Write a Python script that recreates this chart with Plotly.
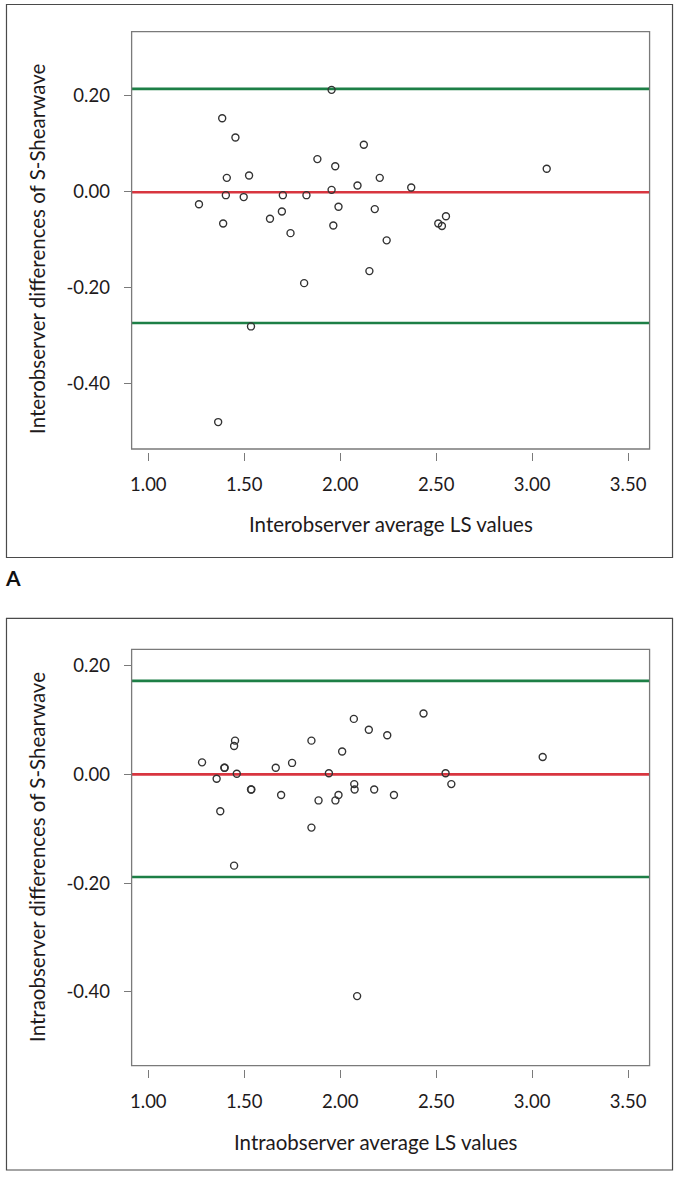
import plotly.graph_objects as go

W, H = 678, 1177

# ---------------- data ----------------
inter_avg = [1.264, 1.385, 1.454, 1.409, 1.404, 1.390, 1.497, 1.525, 1.634, 1.696, 1.701,
             1.741, 1.824, 1.812, 1.881, 1.955, 1.955, 1.964, 1.974, 1.991, 2.090, 2.123,
             2.152, 2.180, 2.206, 2.242, 2.370, 2.511, 2.530, 2.551, 3.076, 1.535, 1.364]
inter_diff = [-0.027, 0.152, 0.112, 0.028, -0.008, -0.067, -0.012, 0.033, -0.057, -0.042, -0.008,
              -0.087, -0.008, -0.191, 0.067, 0.211, 0.003, -0.071, 0.052, -0.032, 0.012, 0.097,
              -0.166, -0.037, 0.028, -0.102, 0.008, -0.067, -0.072, -0.052, 0.047, -0.281, -0.480]
inter_lines = {"mean": -0.002, "upper": 0.213, "lower": -0.274}

intra_avg = [1.280, 1.356, 1.375, 1.396, 1.398, 1.447, 1.452, 1.461, 1.447, 1.535, 1.537,
             1.664, 1.692, 1.749, 1.850, 1.850, 1.887, 1.941, 1.975, 1.991, 2.010, 2.071,
             2.073, 2.075, 2.149, 2.177, 2.245, 2.280, 2.434, 2.549, 2.579, 3.055, 2.088]
intra_diff = [0.022, -0.008, -0.068, 0.012, 0.012, 0.052, 0.062, 0.001, -0.168, -0.028, -0.028,
              0.012, -0.038, 0.021, 0.062, -0.098, -0.048, 0.002, -0.048, -0.038, 0.042, 0.102,
              -0.018, -0.028, 0.082, -0.028, 0.072, -0.038, 0.112, 0.002, -0.018, 0.032, -0.408]
intra_lines = {"mean": 0.000, "upper": 0.172, "lower": -0.189}

x_ticks = [1.0, 1.5, 2.0, 2.5, 3.0, 3.5]
x_ticktext = ["1.00", "1.50", "2.00", "2.50", "3.00", "3.50"]
y_ticks = [0.2, 0.0, -0.2, -0.4]
y_ticktext = ["0.20", "0.00", "-0.20", "-0.40"]

x_title_A = "Interobserver average LS values"
y_title_A = "Interobserver differences of S-Shearwave"
x_title_B = "Intraobserver average LS values"
y_title_B = "Intraobserver differences of S-Shearwave"

# ---------------- layout helpers ----------------
def px(x):
    return x / W

def py(y):
    return 1 - y / H

FONT = "Lato"
TXT = "#1e1a1b"
AXC = "#7a7a7a"
GREEN = "#1d7f46"
RED = "#d8353f"

fig = go.Figure()

panels = [
    dict(xa="x", ya="y", xs=inter_avg, ys=inter_diff, lines=inter_lines,
         top=31.7, bottom=449.0, yr=[-0.536, 0.332],
         xt=x_title_A, yt=y_title_A, xt_x=390, xt_y=524, yt_y=249,
         box=(4.5, 4.5, 672.5, 557.5)),
    dict(xa="x2", ya="y2", xs=intra_avg, ys=intra_diff, lines=intra_lines,
         top=649.3, bottom=1065.7, yr=[-0.536, 0.230],
         xt=x_title_B, yt=y_title_B, xt_x=375, xt_y=1142, yt_y=857,
         box=(4.5, 618.3, 672.5, 1170.0)),
]

LEFT, RIGHT = 130.0, 649.5
shapes = []
annotations = []

for i, p in enumerate(panels):
    fig.add_trace(go.Scatter(
        x=p["xs"], y=p["ys"], mode="markers", xaxis=p["xa"], yaxis=p["ya"],
        marker=dict(symbol="circle-open", size=7, color="#333333", line=dict(width=1.4)),
        showlegend=False, hoverinfo="skip"))

    suffix = "" if i == 0 else "2"
    xdom = [px(LEFT), px(RIGHT)]
    ydom = [py(p["bottom"]), py(p["top"])]
    fig.update_layout(**{
        "xaxis" + suffix: dict(
            domain=xdom, range=[0.913, 3.612], anchor="free",
            position=py(p["bottom"] + 3),
            tickvals=x_ticks, ticktext=x_ticktext, ticks="outside", ticklen=8,
            tickcolor=AXC, tickwidth=1.2, showline=False, showgrid=False, zeroline=False,
            tickfont=dict(family=FONT, size=18.5, color=TXT), ticklabelstandoff=8),
        "yaxis" + suffix: dict(
            domain=ydom, range=p["yr"], anchor="x" + suffix,
            tickvals=y_ticks, ticktext=y_ticktext, ticks="outside", ticklen=7,
            tickcolor=AXC, tickwidth=1.2, showline=False, showgrid=False, zeroline=False,
            tickfont=dict(family=FONT, size=18.5, color=TXT), ticklabelstandoff=10),
    })

    xd = p["xa"] + " domain"
    yd = p["ya"] + " domain"
    # reference lines
    for key, col in (("upper", GREEN), ("lower", GREEN), ("mean", RED)):
        shapes.append(dict(type="line", xref=xd, yref=p["ya"], x0=0, x1=1,
                           y0=p["lines"][key], y1=p["lines"][key],
                           line=dict(color=col, width=2.6), layer="below"))
    # plot border
    shapes.append(dict(type="rect", xref=xd, yref=yd, x0=0, x1=1, y0=0, y1=1,
                       line=dict(color=AXC, width=1.3)))
    # outer panel box
    bx0, by0, bx1, by1 = p["box"]
    shapes.append(dict(type="rect", xref="paper", yref="paper",
                       x0=px(bx0), x1=px(bx1), y0=py(by1), y1=py(by0),
                       line=dict(color="#4a4a4a", width=1.2)))
    # titles
    annotations.append(dict(text=p["xt"], xref="paper", yref="paper",
                            x=px(p["xt_x"]), y=py(p["xt_y"]), xanchor="center", yanchor="middle",
                            showarrow=False, font=dict(family=FONT, size=20.5, color=TXT)))
    annotations.append(dict(text=p["yt"], xref="paper", yref="paper",
                            x=px(35), y=py(p["yt_y"]), xanchor="center", yanchor="middle",
                            textangle=-90, showarrow=False,
                            font=dict(family=FONT, size=20.5, color=TXT)))

annotations.append(dict(text="<b>A</b>", xref="paper", yref="paper", x=px(1), y=py(577),
                        xanchor="left", yanchor="middle", showarrow=False,
                        font=dict(family=FONT, size=21, color="#111111")))

fig.update_layout(
    width=W, height=H, margin=dict(l=0, r=0, t=0, b=0),
    paper_bgcolor="white", plot_bgcolor="white",
    shapes=shapes, annotations=annotations,
)

fig.write_html("out.html", config={"displayModeBar": False},
               post_script="document.body.style.margin='0px';")
